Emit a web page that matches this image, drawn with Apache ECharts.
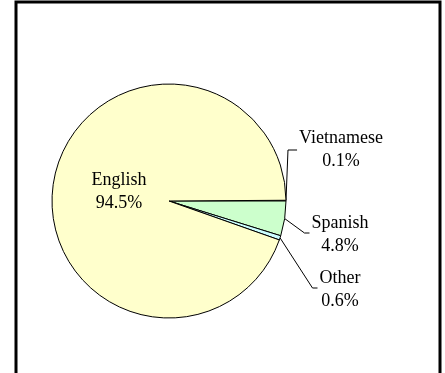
<!DOCTYPE html>
<html>
<head>
<meta charset="utf-8">
<script src="https://cdn.jsdelivr.net/npm/echarts@6/dist/echarts.min.js"></script>
<style>
html,body{margin:0;padding:0;background:#fff;}
#c{width:445px;height:373px;}
</style>
</head>
<body>
<div id="c"></div>
<script>
var categories = ['Vietnamese', 'Spanish', 'Other', 'English'];
var shares = [0.1, 4.8, 0.6, 94.5];
var colors = ['#993366', '#CCFFCC', '#CCFFFF', '#FFFFCC'];

var CX = 169, CY = 201, R = 117;
var labelPos = { // label centre positions (layout only)
  0: [341, 150],
  1: [340, 235],
  2: [340, 290],
  3: [119, 192]
};

var chart = echarts.init(document.getElementById('c'));
var data = categories.map(function (c, i) {
  var item = { name: c, value: shares[i], itemStyle: { color: colors[i] } };
  if (i === 3) { item.labelLine = { show: false }; }
  return item;
});

chart.setOption({
  animation: false,
  graphic: [{
    type: 'rect',
    shape: { x: 16, y: 2, width: 424, height: 420 },
    style: { fill: 'none', stroke: '#000', lineWidth: 3 },
    z: 100
  }],
  series: [{
    type: 'pie',
    center: [CX, CY],
    radius: R,
    startAngle: shares[0] * 3.6,
    clockwise: true,
    avoidLabelOverlap: false,
    minAngle: 0,
    data: data,
    itemStyle: { borderColor: '#000', borderWidth: 1 },
    label: {
      show: true,
      position: 'outside',
      fontFamily: 'Liberation Serif',
      fontSize: 18,
      lineHeight: 23,
      color: '#000',
      align: 'center',
      formatter: function (p) { return p.name + '\n' + p.value.toFixed(1) + '%'; }
    },
    labelLine: { show: true, length: 10, length2: 10, lineStyle: { color: '#000', width: 1 } },
    emphasis: { disabled: true },
    labelLayout: function (params) {
      var i = params.dataIndex;
      var pos = labelPos[i];
      var w = params.labelRect ? params.labelRect.width : 60;
      var res = { x: pos[0], y: pos[1], align: 'center', verticalAlign: 'middle', hideOverlap: false, moveOverlap: null };
      if (i !== 3) {
        var before = 0;
        for (var k = 0; k < i; k++) before += shares[k];
        var mid = (shares[0] - before - shares[i] / 2) * 3.6 * Math.PI / 180;
        var start = [CX + R * Math.cos(mid), CY - R * Math.sin(mid)];
        var left = pos[0] - w / 2;
        if (i === 0) {
          res.labelLinePoints = [start, [start[0] + 2, pos[1]], [left - 2, pos[1]]];
        } else {
          res.labelLinePoints = [start, [left - 7, pos[1] - 2], [left - 2, pos[1] - 2]];
        }
      }
      return res;
    }
  }]
});
</script>
</body>
</html>
